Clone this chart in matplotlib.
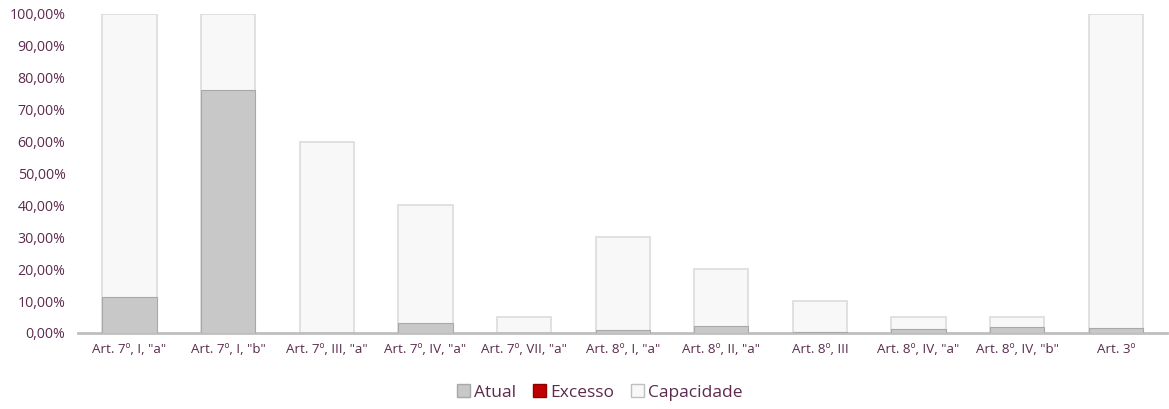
import matplotlib.pyplot as plt
import numpy as np
from matplotlib.patches import Patch

categorias = ['Art. 7º, I, "a"', 'Art. 7º, I, "b"', 'Art. 7º, III, "a"', 'Art. 7º, IV, "a"',
              'Art. 7º, VII, "a"', 'Art. 8º, I, "a"', 'Art. 8º, II, "a"', 'Art. 8º, III',
              'Art. 8º, IV, "a"', 'Art. 8º, IV, "b"', 'Art. 3º']
capacidade = [100, 100, 60, 40, 5, 30, 20, 10, 5, 5, 100]
atual = [11.3, 76.2, 0.0, 3.1, 0.0, 0.8, 2.1, 0.3, 1.3, 1.9, 1.7]
excesso = [0, 0, 0, 0, 0, 0, 0, 0, 0, 0, 0]

texto = '#5b2a4d'
plt.rcParams['font.family'] = ['Open Sans', 'DejaVu Sans']

fig = plt.figure(figsize=(11.69, 4.09), dpi=100)
ax = fig.add_axes([0.0667, 0.186, 0.9316, 0.780])

x = np.arange(len(categorias))
larg = 0.55
ax.bar(x, capacidade, width=larg, color='#f8f8f8', edgecolor='#dcdcdc', linewidth=1.2, zorder=2)
ax.bar(x, atual, width=larg, color='#c8c8c8', edgecolor='#a8a8a8', linewidth=0.8, zorder=3)
ax.bar(x, excesso, width=larg, bottom=atual, color='#c00000', zorder=3)

ax.set_xlim(-0.523, len(categorias) - 0.48)
ax.set_ylim(0, 100)
ax.set_yticks(np.arange(0, 101, 10))
ax.set_yticklabels([f'{v:.2f}%'.replace('.', ',') for v in np.arange(0, 101, 10)])
ax.set_xticks(x)
ax.set_xticklabels(categorias)
ax.tick_params(length=0, labelcolor=texto)
ax.tick_params(axis='x', pad=7, labelsize=9.6)
ax.tick_params(axis='y', pad=9, labelsize=10.2)

for s in ['top', 'right', 'left']:
    ax.spines[s].set_visible(False)
ax.spines['bottom'].set_color('#bfbfbf')
ax.spines['bottom'].set_linewidth(2)

handles = [Patch(facecolor='#c8c8c8', edgecolor='#a8a8a8', label='Atual'),
           Patch(facecolor='#c00000', edgecolor='#900000', label='Excesso'),
           Patch(facecolor='#f8f8f8', edgecolor='#bfbfbf', label='Capacidade')]
fig.legend(handles=handles, loc='center', bbox_to_anchor=(0.513, 0.04), ncol=3, frameon=False,
           fontsize=12.5, labelcolor=texto, handlelength=0.75, handleheight=0.75,
           handletextpad=0.2, columnspacing=1.0)

fig.savefig('out.png', dpi=100)
